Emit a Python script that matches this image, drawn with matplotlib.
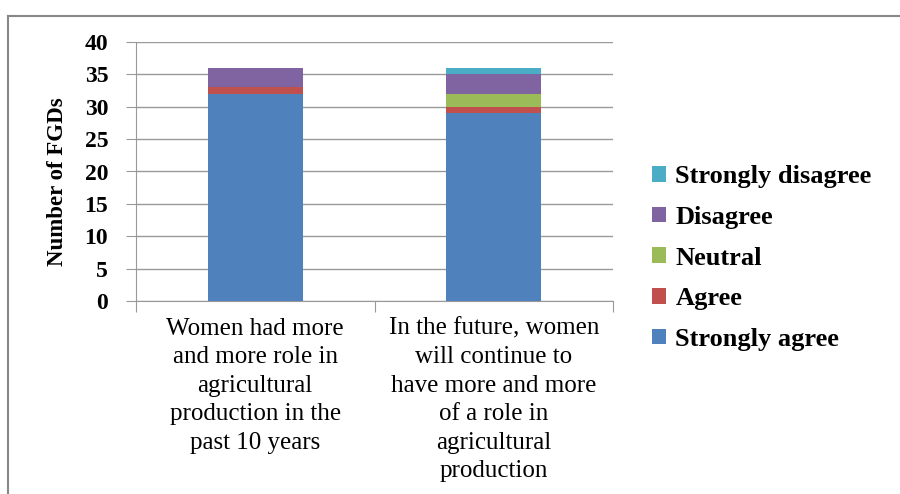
import matplotlib.pyplot as plt
from matplotlib.lines import Line2D
import numpy as np

# data
categories = ["Women had more\nand more role in\nagricultural\nproduction in the\npast 10 years",
              "In the future, women\nwill continue to\nhave more and more\nof a role in\nagricultural\nproduction"]
series = ["Strongly agree", "Agree", "Neutral", "Disagree", "Strongly disagree"]
strongly_agree = [32, 29]
agree = [1, 1]
neutral = [0, 2]
disagree = [3, 3]
strongly_disagree = [0, 1]
colors = ["#4F81BD", "#C0504D", "#9BBB59", "#8064A2", "#4BACC6"]

plt.rcParams['font.family'] = ['Liberation Serif', 'DejaVu Serif']

fig = plt.figure(figsize=(9, 4.94), dpi=100)

# outer chart frame (left and top edges visible)
fig.add_artist(Line2D([8/900, 8/900], [0, 1 - 16/494], transform=fig.transFigure, color="#888888", lw=1.5))
fig.add_artist(Line2D([8/900, 1], [1 - 16/494, 1 - 16/494], transform=fig.transFigure, color="#888888", lw=1.5))

ax = fig.add_axes([136/900, 1 - 301/494, 477/900, 259/494])

x = np.arange(len(categories))
bottom = np.zeros(len(categories))
values = [strongly_agree, agree, neutral, disagree, strongly_disagree]
handles = []
for name, vals, c in zip(series, values, colors):
    b = ax.bar(x, vals, width=0.4, bottom=bottom, color=c, label=name, zorder=3)
    bottom += np.array(vals)
    handles.append(b)

ax.set_xlim(-0.5, 1.5)
ax.set_ylim(0, 40)
ax.set_yticks(range(0, 41, 5))
ax.yaxis.grid(True, color="#999999", lw=1, zorder=0)
for lab in ax.get_yticklabels():
    lab.set_fontweight("bold")
ax.tick_params(axis="y", labelsize=17, length=7, color="#999999", pad=13)

ax.set_xticks([-0.5, 0.5, 1.5])
ax.set_xticklabels([])
ax.tick_params(axis="x", length=8, color="#999999")
for i, cat in enumerate(categories):
    ax.text(i, -0.065, cat, transform=ax.get_xaxis_transform(), ha="center", va="top",
            fontsize=18, linespacing=1.38)

for s in ["top", "right"]:
    ax.spines[s].set_visible(False)
ax.spines["left"].set_color("#999999")
ax.spines["bottom"].set_color("#999999")

ax.set_ylabel("Number of FGDs", fontsize=16.5, fontweight="bold")
ax.yaxis.set_label_coords(-0.142, 0.46)

fig.legend(handles[::-1], series[::-1], loc="center left", bbox_to_anchor=(641/900, 1 - 258/494),
           frameon=False, prop={"size": 19, "weight": "bold"}, handlelength=0.55,
           handleheight=0.55, handletextpad=0.35, labelspacing=0.67, borderaxespad=0)

fig.savefig("out.png", dpi=100)
